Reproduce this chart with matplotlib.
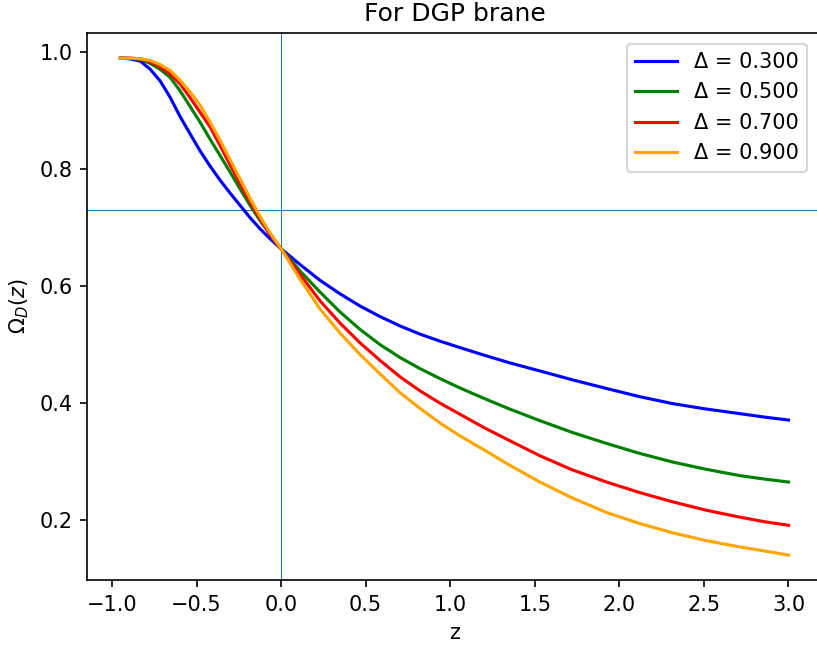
import matplotlib
matplotlib.use('Agg')
import matplotlib.pyplot as plt

z = [-0.95, -0.9, -0.833, -0.774, -0.715, -0.656, -0.597, -0.537, -0.478, -0.419,
     -0.360, -0.301, -0.242, -0.183, -0.124, -0.065, 0.0, 0.112, 0.230, 0.348,
     0.467, 0.585, 0.703, 0.821, 0.939, 1.057, 1.2, 1.35, 1.53, 1.72,
     1.924, 2.12, 2.317, 2.51, 2.711, 2.86, 3.0]

omega_03 = [0.990, 0.989, 0.985, 0.971, 0.951, 0.923, 0.890, 0.860, 0.831, 0.805,
            0.781, 0.759, 0.738, 0.717, 0.698, 0.681, 0.664, 0.637, 0.610, 0.587,
            0.566, 0.548, 0.532, 0.518, 0.506, 0.495, 0.482, 0.469, 0.455, 0.440,
            0.425, 0.411, 0.399, 0.390, 0.382, 0.376, 0.371]
omega_05 = [0.990, 0.990, 0.988, 0.981, 0.971, 0.957, 0.934, 0.907, 0.880, 0.851,
            0.823, 0.795, 0.766, 0.738, 0.712, 0.689, 0.664, 0.626, 0.590, 0.556,
            0.526, 0.500, 0.478, 0.459, 0.442, 0.426, 0.408, 0.390, 0.370, 0.350,
            0.331, 0.314, 0.299, 0.287, 0.276, 0.270, 0.265]
omega_07 = [0.990, 0.990, 0.989, 0.984, 0.975, 0.963, 0.946, 0.922, 0.897, 0.872,
            0.840, 0.807, 0.775, 0.744, 0.715, 0.688, 0.664, 0.620, 0.575, 0.537,
            0.503, 0.473, 0.445, 0.421, 0.400, 0.381, 0.358, 0.336, 0.310, 0.286,
            0.265, 0.247, 0.231, 0.217, 0.205, 0.197, 0.191]
omega_09 = [0.990, 0.990, 0.989, 0.986, 0.979, 0.969, 0.952, 0.932, 0.909, 0.880,
            0.849, 0.816, 0.783, 0.750, 0.719, 0.691, 0.664, 0.612, 0.561, 0.520,
            0.483, 0.450, 0.418, 0.391, 0.366, 0.344, 0.320, 0.294, 0.265, 0.238,
            0.213, 0.194, 0.178, 0.165, 0.154, 0.147, 0.140]

deltas = [0.3, 0.5, 0.7, 0.9]
series = [omega_03, omega_05, omega_07, omega_09]
colors = ['blue', 'green', 'red', 'orange']

h_level = 0.73

dpi = 150
fig = plt.figure(figsize=(817/dpi, 648/dpi), dpi=dpi)
ax = fig.add_axes([0.1065, 0.105, 0.8995, 0.8436])

ax.axhline(h_level, lw=0.5)
ax.axvline(0, lw=0.5)

for d, vals, c in zip(deltas, series, colors):
    ax.plot(z, vals, color=c, label='Δ = %.3f' % d)

ax.set_xlabel('z')
ax.set_ylabel(r'$\Omega_D(z)$')
ax.set_title('For DGP brane')
ax.legend(loc='upper right', bbox_to_anchor=(0.9935, 1.0))

fig.savefig('out.png', dpi=dpi)
